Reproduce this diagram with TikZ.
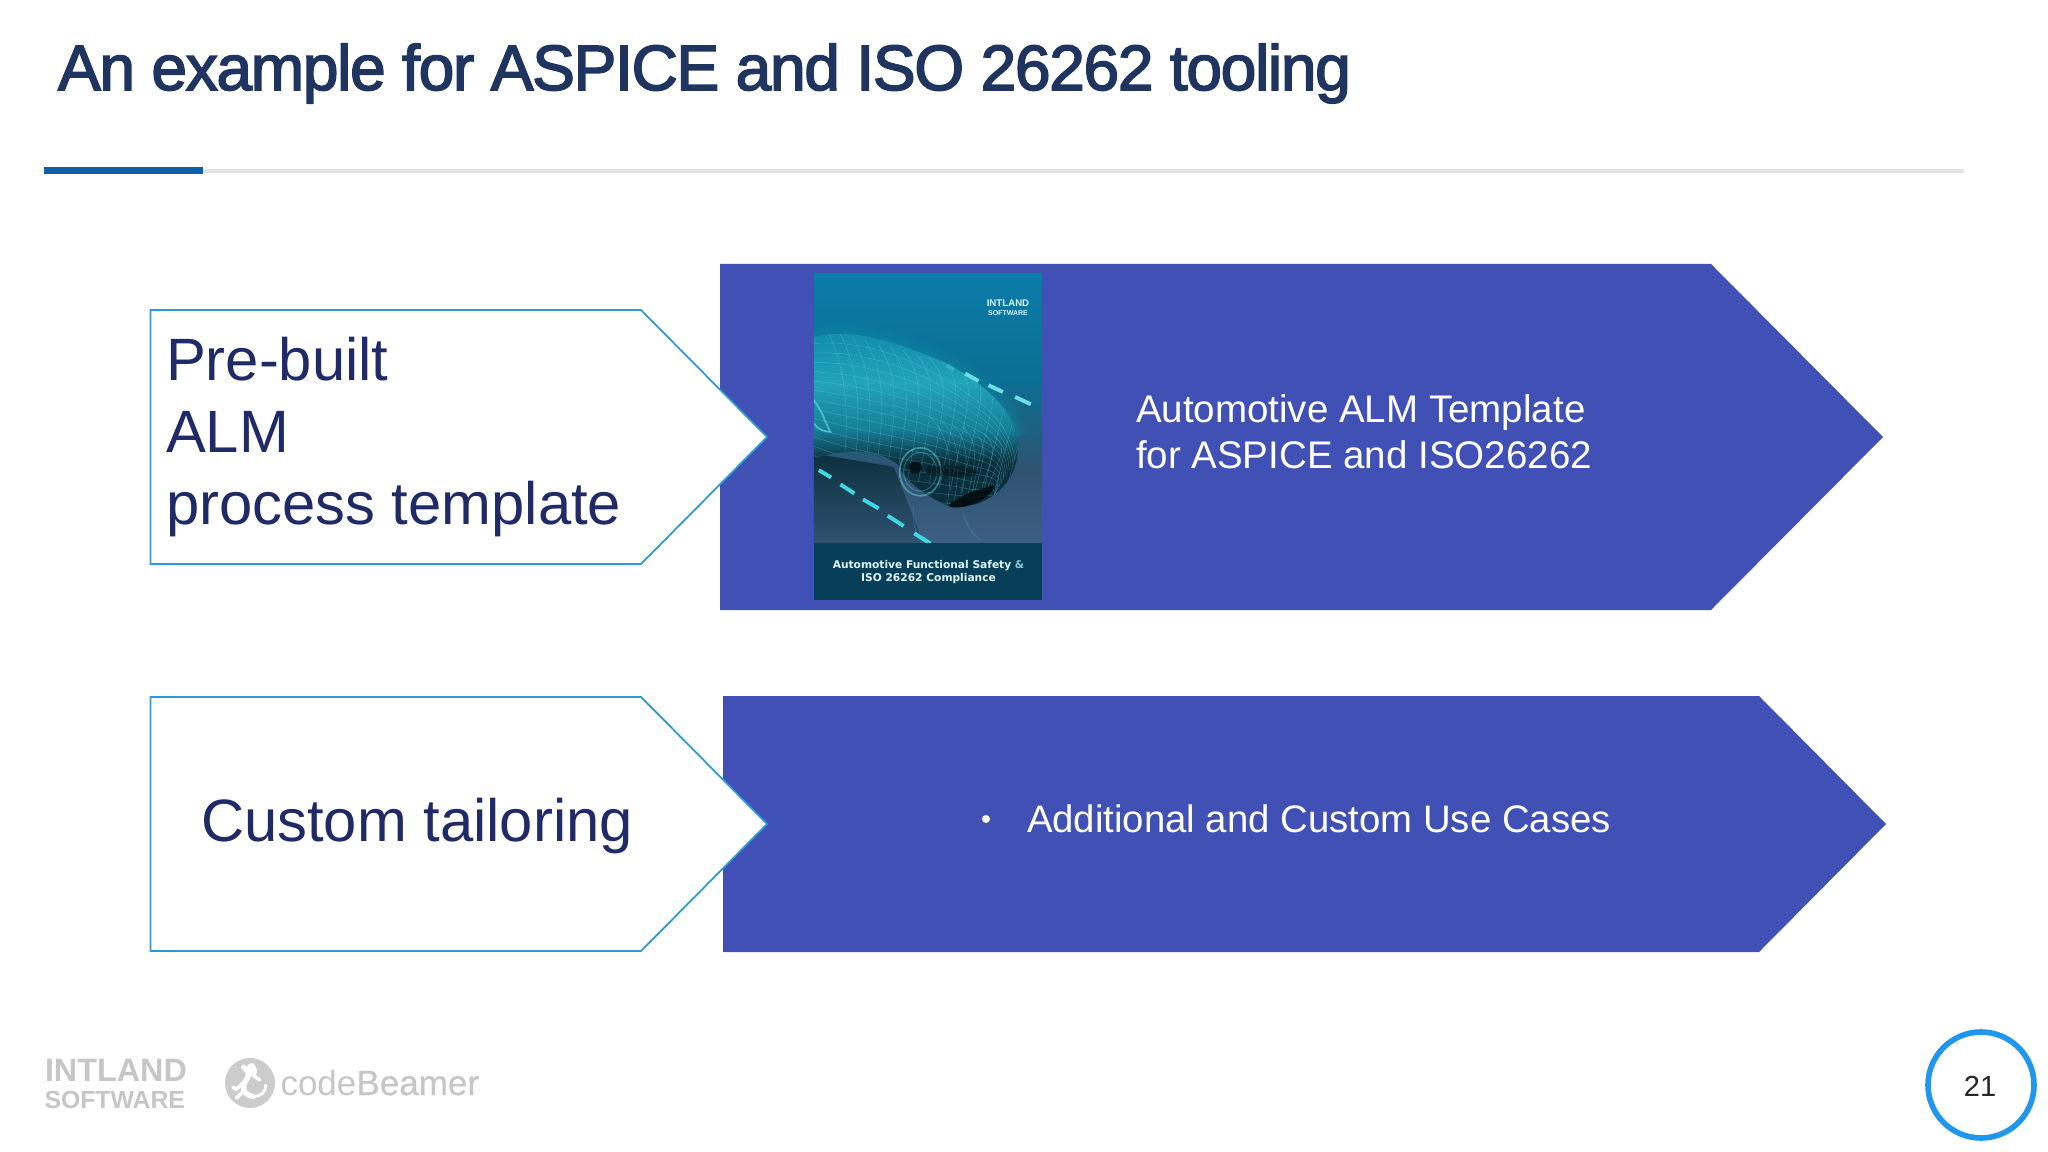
\documentclass[tikz,border=0pt]{standalone}
\usepackage{fontspec}
\setmainfont{Liberation Sans}
\newfontfamily\titlefont[FakeBold=2.5,LetterSpace=-2.0]{Liberation Sans}
\newfontfamily\beamfont[FakeBold=0.5]{Liberation Sans}
\newfontfamily\coverfont{DejaVu Sans}
\usetikzlibrary{calc}
\definecolor{titleblue}{HTML}{1F3560}
\definecolor{rulesblue}{HTML}{0F5FA6}
\definecolor{rulegrey}{HTML}{DFE3E3}
\definecolor{bandblue}{HTML}{4050B5}
\definecolor{edgeblue}{HTML}{2A9BD8}
\definecolor{navytext}{HTML}{1F2A66}
\definecolor{ringblue}{HTML}{2196EE}
\definecolor{logogrey}{HTML}{C6C6C6}
\definecolor{covertop}{HTML}{0A7CA8}
\definecolor{covermid}{HTML}{0C6E92}
\definecolor{coverlow}{HTML}{2F5370}
\definecolor{coverbot}{HTML}{3C5F84}
\definecolor{coverband}{HTML}{073F58}
\definecolor{carlight}{HTML}{23A4BA}
\definecolor{carmid}{HTML}{157F96}
\definecolor{cardark}{HTML}{0B2E3C}
\definecolor{carhaze}{HTML}{1390AC}
\definecolor{wire}{HTML}{6FDDE8}
\definecolor{dashcyan}{HTML}{3FD8E2}
\pgfdeclareverticalshading{carshade}{100bp}{color(0bp)=(cardark);color(25bp)=(cardark);color(38bp)=(cardark);color(47bp)=(carmid);color(60bp)=(carlight);color(72bp)=(carhaze);color(75bp)=(carhaze);color(100bp)=(carhaze)}
\tikzset{
  txt/.style={inner sep=0pt,outer sep=0pt},
  whitepent/.style={draw=edgeblue,line width=0.5pt,fill=white,line join=miter},
  bluearrow/.style={fill=bandblue,draw=none},
  wireline/.style={draw=wire,line width=0.16pt,opacity=0.28},
  roaddash/.style={draw=dashcyan,line width=1.1pt},
  lanedash/.style={draw=wire,line width=1.1pt},
  carpath/.style={insert path={
      (100,260) .. controls (200,235) and (320,260) .. (500,340)
      .. controls (610,400) and (690,470) .. (712,560)
      .. controls (722,640) and (690,700) .. (640,735)
      .. controls (600,765) and (550,775) .. (510,770)
      .. controls (440,740) and (380,700) .. (350,640)
      .. controls (280,590) and (180,600) .. (100,625) -- cycle}},
}
\begin{document}
\begin{tikzpicture}[x=0.01cm,y=-0.01cm]
\useasboundingbox (0,0) rectangle (2048,1152);
\fill[white] (0,0) rectangle (2048,1152);

% title
\node[txt,anchor=base west,text=titleblue] (title) at (58,90) {\titlefont\fontsize{18.2pt}{22pt}\selectfont An example for ASPICE and ISO 26262 tooling};
\fill[rulegrey] (203,169) rectangle (1964,173);
\fill[rulesblue] (44,167) rectangle (203,174);

% blue arrows
\path[bluearrow] (720,264) -- (1711,264) -- (1883,437) -- (1711,610) -- (720,610) -- cycle;
\path[bluearrow] (723,696) -- (1759,696) -- (1886,824) -- (1759,952) -- (723,952) -- cycle;

% white pentagons
\draw[whitepent] (150.5,310) -- (641,310) -- (767,437) -- (641,564) -- (150.5,564) -- cycle;
\draw[whitepent] (150.5,697) -- (641,697) -- (767,824) -- (641,951) -- (150.5,951) -- cycle;

\node[txt,anchor=west,align=left,text=navytext,font=\fontsize{17.0pt}{20.5pt}\selectfont] (prebuilt) at (166,437) {Pre-built\\ALM\\process template};
\node[txt,anchor=base west,text=navytext,font=\fontsize{17.0pt}{20.3pt}\selectfont] (custom) at (201,841) {Custom tailoring};

\node[txt,anchor=west,align=left,text=white,font=\fontsize{10.95pt}{13.0pt}\selectfont] (template) at (1136,432) {Automotive ALM Template\\for ASPICE and ISO26262};
\node[txt,anchor=base west,text=white,font=\fontsize{10.9pt}{13pt}\selectfont] (usecases) at (1027,832.5) {Additional and Custom Use Cases};
\fill[white] (986,819) circle (4);

% cover
\begin{scope}[shift={(780.5,250.5)},x=0.003333cm,y=-0.003333cm]
  \begin{scope}
    \clip (100,70) rectangle (785,1050);
    \shade[top color=covertop,bottom color=covermid] (100,70) rectangle (785,400);
    \shade[top color=covermid,bottom color=coverlow] (100,400) rectangle (785,660);
    \shade[top color=coverlow,bottom color=coverbot] (100,660) rectangle (785,880);
    % ground under the car on the left
    \shade[top color=cardark,bottom color=coverlow,opacity=0.95] (100,610) -- (340,650) -- (430,880) -- (100,880) -- cycle;
    % soft halo around the car
    \foreach \w/\o in {7/0.08,5/0.10,3/0.12,1.5/0.14}
      \draw[carhaze,line width=\w pt,opacity=\o] (100,260) .. controls (200,235) and (320,260) .. (500,340)
        .. controls (610,400) and (690,470) .. (712,560);
    % car body
    \shade[shading=carshade,carpath];
    % wireframe: long lines along the body
    \begin{scope}
      \clip[carpath];
      \foreach \i in {0,1,...,15}
        \draw[wireline] (100,{280+28*\i}) .. controls ({250+4*\i},{265+36*\i}) and ({420+2*\i},{330+30*\i}) .. ({560+\i},{430+24*\i}) .. controls ({640-\i},{480+20*\i}) and ({690-2*\i},{540+14*\i}) .. ({705-6*\i},{630+10*\i});
      \foreach \i in {0,1,...,15}
        \draw[wireline] ({140+38*\i},{240+10*\i}) .. controls ({190+40*\i},{340+6*\i}) and ({210+36*\i},{470-4*\i}) .. ({190+32*\i},{640+8*\i});
      \foreach \i in {0,...,6}
        \draw[wireline] ({450+32*\i},{500+10*\i}) .. controls ({510+30*\i},{560+6*\i}) and ({520+22*\i},{650-4*\i}) .. ({500+20*\i},{770-8*\i});
    \end{scope}
    \draw[wire,line width=0.5pt,opacity=0.6] (100,450) .. controls (125,480) and (135,520) .. (150,545) .. controls (130,545) and (110,535) .. (100,520);
    % wheel and bumper
    \draw[wire,line width=0.5pt,opacity=0.45] (420,665) ellipse (62 and 72);
    \draw[wire,line width=0.3pt,opacity=0.3] (420,665) ellipse (50 and 58);
    \fill[black!80!cardark,opacity=0.75] (405,652) ellipse (20 and 18);
    \fill[black!85!cardark,opacity=0.8] (505,765) .. controls (540,735) and (600,715) .. (645,705) .. controls (630,745) and (570,775) .. (515,772) -- cycle;
    \fill[black!85!cardark,opacity=0.4] (440,650) .. controls (500,640) and (560,645) .. (600,670) .. controls (550,685) and (490,685) .. (440,672) -- cycle;
    % faint ground reflections
    \draw[wire,line width=0.4pt,opacity=0.12] (400,770) .. controls (395,810) and (405,850) .. (425,880);
    \draw[wire,line width=0.4pt,opacity=0.12] (550,790) .. controls (555,820) and (575,850) .. (600,870);
    % lane dashes
    \draw[lanedash,opacity=0.3] (500,345) -- (520,357);
    \draw[lanedash] (555,370) -- (595,392);
    \draw[lanedash] (625,405) -- (668,425);
    \draw[lanedash] (705,440) -- (752,462);
    \draw[roaddash] (115,660) -- (152,682);
    \draw[roaddash] (180,703) -- (222,730);
    \draw[roaddash] (248,748) -- (295,775);
    \draw[roaddash] (322,797) -- (370,828);
    \draw[roaddash] (402,850) -- (450,880);
    \fill[coverband] (100,880) rectangle (785,1050);
  \end{scope}
\end{scope}
\node[txt,align=center,text=white!88!cyan,font=\coverfont\bfseries\fontsize{3.03pt}{3.75pt}\selectfont] (covertitle) at (928.5,572) {Automotive Functional Safety {\color{white!50!cyan!70!gray}\&}\\ISO 26262 Compliance};
\node[txt,align=center,text=white!85!cyan,font=\bfseries\fontsize{2.75pt}{2.5pt}\selectfont] (coverlogo) at (1008,307.5) {INTLAND\\{\fontsize{2.0pt}{2.5pt}\selectfont SOFTWARE}};

% footer logos
\node[txt,anchor=base west,text=logogrey,font=\bfseries\fontsize{9.2pt}{10pt}\selectfont] (intland) at (45,1081) {INTLAND};
\node[txt,anchor=base west,text=logogrey,font=\bfseries\fontsize{7.05pt}{8pt}\selectfont] (software) at (44.5,1108) {SOFTWARE};
\fill[logogrey!90!white] (250,1083) circle (25);
\begin{scope}[shift={(20,1030)},x=0.003333cm,y=-0.003333cm]
  \draw[white,line width=1.5pt,line cap=round] (672,112) .. controls (690,125) and (690,135) .. (680,150) .. controls (665,170) and (670,195) .. (700,200);
  \draw[white,line width=2.4pt,line cap=round] (695,112) -- (700,125);
  \draw[white,line width=1pt,line cap=round] (680,150) -- (650,178) -- (640,172);
  \draw[white,line width=1pt,line cap=round] (675,180) -- (650,205);
  \draw[white,line width=1pt,line cap=round] (690,128) -- (720,150);
  \draw[white,line width=0.8pt,line cap=round] (700,200) .. controls (725,200) and (740,185) .. (738,165);
\end{scope}
\node[txt,anchor=base west,text=logogrey,font=\fontsize{9.96pt}{11pt}\selectfont] (codebeamer) at (280.5,1095) {code{\beamfont Beamer}};

% page number
\draw[ringblue,line width=1.6pt] (1981,1085) circle (53);
\node[txt,text=black!85,font=\fontsize{8.25pt}{10pt}\selectfont] (page) at (1980,1086) {21};
\end{tikzpicture}
\end{document}
